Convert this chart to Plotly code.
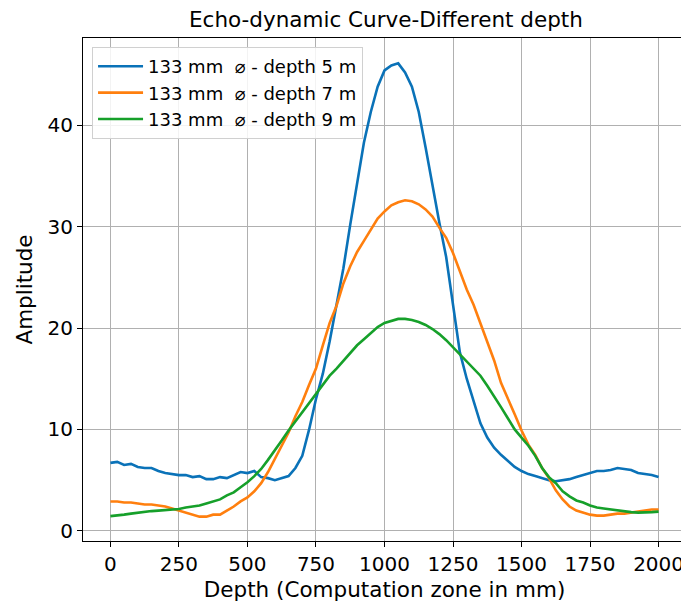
import plotly.graph_objects as go

depth = list(range(0, 2001, 25))

amp_5m = [6.7, 6.8, 6.5, 6.6, 6.3, 6.2, 6.2, 5.9, 5.7, 5.6,
          5.5, 5.5, 5.3, 5.4, 5.1, 5.1, 5.3, 5.2, 5.5, 5.8,
          5.7, 5.9, 5.3, 5.2, 5.0, 5.2, 5.4, 6.2, 7.4, 10.0,
          13.0, 15.5, 18.7, 22.3, 25.9, 30.2, 34.2, 38.3, 41.3, 43.8,
          45.4, 45.9, 46.1, 45.2, 43.8, 41.3, 37.8, 34.0, 30.4, 27.0,
          22.3, 17.6, 15.0, 12.7, 10.6, 9.2, 8.2, 7.5, 6.9, 6.3,
          5.9, 5.6, 5.4, 5.2, 5.0, 4.9, 5.0, 5.1, 5.3, 5.5,
          5.7, 5.9, 5.9, 6.0, 6.2, 6.1, 6.0, 5.7, 5.6, 5.5,
          5.3]

amp_7m = [2.9, 2.9, 2.8, 2.8, 2.7, 2.6, 2.6, 2.5, 2.4, 2.2,
          2.0, 1.8, 1.6, 1.4, 1.4, 1.6, 1.6, 2.0, 2.4, 2.9,
          3.3, 3.9, 4.7, 5.8, 7.1, 8.4, 9.7, 11.3, 12.7, 14.4,
          16.0, 18.3, 20.5, 22.2, 24.4, 26.1, 27.5, 28.6, 29.7, 30.8,
          31.5, 32.1, 32.4, 32.6, 32.5, 32.2, 31.7, 31.0, 29.9, 28.9,
          27.4, 25.5, 23.8, 22.3, 20.5, 18.5, 16.8, 14.6, 13.1, 11.5,
          9.9, 8.5, 7.5, 6.2, 5.2, 4.0, 3.1, 2.4, 2.0, 1.8,
          1.6, 1.5, 1.5, 1.6, 1.7, 1.7, 1.8, 1.9, 2.0, 2.1,
          2.1]

amp_9m = [1.45, 1.5, 1.6, 1.7, 1.8, 1.9, 1.95, 2.0, 2.05, 2.1,
          2.15, 2.3, 2.4, 2.5, 2.7, 2.9, 3.1, 3.5, 3.8, 4.3,
          4.8, 5.4, 6.1, 7.0, 7.9, 8.9, 9.9, 10.8, 11.6, 12.5,
          13.5, 14.4, 15.3, 16.0, 16.8, 17.6, 18.3, 18.9, 19.5, 20.1,
          20.5, 20.7, 20.9, 20.9, 20.8, 20.6, 20.3, 19.9, 19.4, 18.8,
          18.1, 17.4, 16.8, 16.1, 15.3, 14.3, 13.3, 12.2, 11.1, 10.0,
          9.2, 8.4, 7.4, 6.2, 5.3, 4.7, 3.9, 3.4, 3.0, 2.8,
          2.5, 2.3, 2.2, 2.1, 2.0, 1.9, 1.85, 1.8, 1.8, 1.85,
          1.9]

names = ["133 mm \u00a0\u2300 - depth 5 m",
         "133 mm \u00a0\u2300 - depth 7 m",
         "133 mm \u00a0\u2300 - depth 9 m"]
colors = ["#0a72b8", "#ff7f0e", "#16a02a"]

fig = go.Figure()
for ys, nm, c in zip([amp_5m, amp_7m, amp_9m], names, colors):
    fig.add_trace(go.Scatter(x=depth, y=ys, mode="lines", name=nm,
                             line=dict(color=c, width=2.6)))

axis_common = dict(showline=True, linecolor="black", linewidth=1.2, mirror=True,
                   ticks="outside", ticklen=5, tickcolor="black",
                   showgrid=True, gridcolor="#b0b0b0", gridwidth=1.3,
                   zeroline=False, tickfont=dict(size=20, color="black"))

fig.update_xaxes(range=[-100, 2100], tickvals=list(range(0, 2001, 250)),
                 title=dict(text="Depth (Computation zone in mm)", font=dict(size=21.5, color="black"), standoff=6),
                 **axis_common)
fig.update_yaxes(range=[-1.0, 48.6], tickvals=[0, 10, 20, 30, 40],
                 title=dict(text="Amplitude", font=dict(size=21.5, color="black"), standoff=8),
                 **axis_common)

# page body has an 8px margin, so the figure is 8px smaller and shifted
fig.update_layout(
    width=681, height=594,
    margin=dict(l=75, r=3, t=30, b=61),
    paper_bgcolor="white", plot_bgcolor="white",
    font=dict(family="DejaVu Sans", color="black"),
    title=dict(text="Echo-dynamic Curve-Different depth", x=0.555, xanchor="center",
               y=0.98, yanchor="middle", font=dict(size=21.5, color="black")),
    legend=dict(x=0.015, y=0.982, xanchor="left", yanchor="top", itemwidth=45,
                bgcolor="rgba(255,255,255,0.85)", bordercolor="#d0d0d0", borderwidth=1,
                font=dict(size=18, color="black")),
)

fig.write_html("out.html")
